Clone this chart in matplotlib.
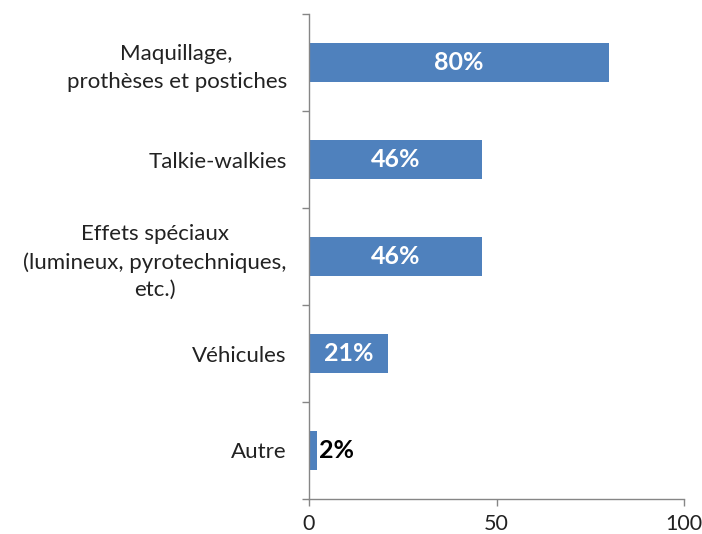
import matplotlib
matplotlib.use("Agg")
import matplotlib.pyplot as plt
import numpy as np

categories = ["Maquillage,\nprothèses et postiches", "Talkie-walkies",
              "Effets spéciaux\n(lumineux, pyrotechniques,\netc.)", "Véhicules", "Autre"]
values = [80, 46, 46, 21, 2]
labels = ["80%", "46%", "46%", "21%", "2%"]
xticks = [0, 50, 100]

plt.rcParams['font.family'] = ['Lato', 'DejaVu Sans']

fig = plt.figure(figsize=(7.02, 5.34), dpi=100)
ax = fig.add_axes([309/702, 1-499/534, (684-309)/702, (499-14)/534])

y = np.arange(len(categories))
color = "#4F81BD"
ax.barh(y, values, height=0.4, color=color)
ax.set_ylim(len(categories)-0.5, -0.5)
ax.set_xlim(0, 100)

for yi, v, lab in zip(y, values, labels):
    if v > 10:
        ax.text(v/2, yi, lab, ha="center", va="center", color="white",
                fontsize=18, fontweight="bold")
    else:
        ax.text(v + 0.6, yi, lab, ha="left", va="center", color="black",
                fontsize=18, fontweight="bold")

ax.set_yticks(y)
ax.set_yticklabels(categories, fontsize=16, color="#222222", linespacing=1.45)
ax.set_yticks(np.arange(len(categories)+1) - 0.5, minor=True)
ax.tick_params(axis="y", which="major", length=0, pad=16)
ax.tick_params(axis="y", which="minor", length=5, color="#868686", width=1)
for t in ax.get_yticklabels():
    t.set_multialignment("center")

ax.set_xticks(xticks)
ax.set_xticklabels([str(v) for v in xticks], fontsize=15.5, color="#222222")
ax.tick_params(axis="x", length=5, color="#868686", width=1, pad=6)

for s in ["top", "right"]:
    ax.spines[s].set_visible(False)
for s in ["left", "bottom"]:
    ax.spines[s].set_color("#868686")
    ax.spines[s].set_linewidth(1)

fig.savefig("out.png", dpi=100)
